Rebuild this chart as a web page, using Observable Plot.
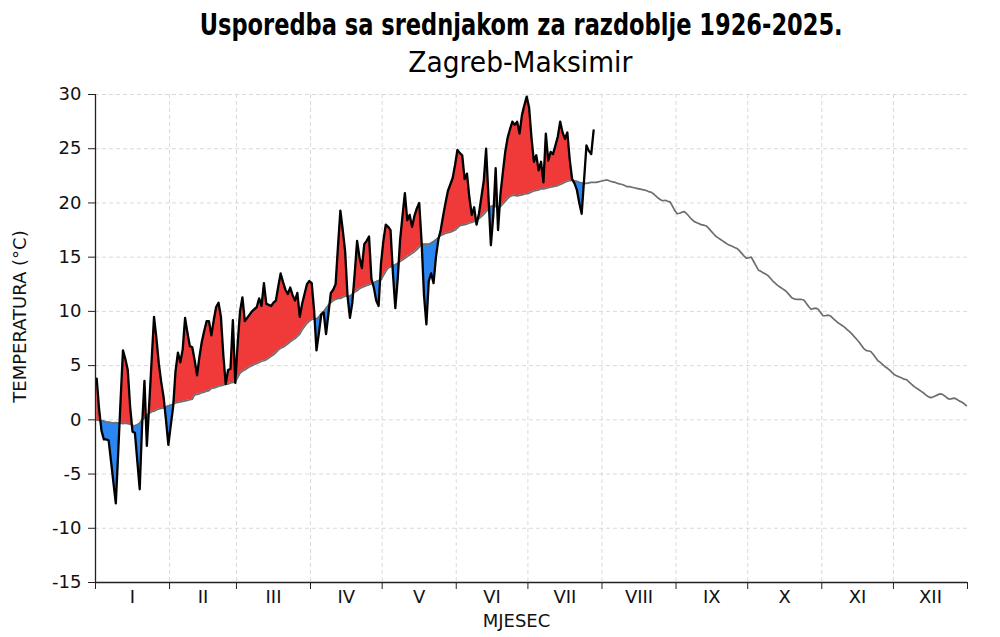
<!DOCTYPE html>
<html>
<head>
<meta charset="utf-8">
<script src="https://cdn.jsdelivr.net/npm/d3@7"></script>
<script src="https://cdn.jsdelivr.net/npm/@observablehq/plot@0.6"></script>
<style>
  html, body { margin: 0; padding: 0; background: #fff; }
  #wrap { width: 1000px; height: 637px; position: relative; overflow: hidden; }
  #head { position: absolute; top: 0; left: 0; width: 1000px; height: 85px; z-index: 2; }
  #chart { position: absolute; top: 0; left: 0; z-index: 1; }
  .hl { position: absolute; left: 0; width: 1000px; text-align: center; white-space: nowrap; }
  .hl span { display: inline-block; transform-origin: 50% 50%; }
  #title { top: 6px; font-family: "DejaVu Sans", sans-serif; font-weight: bold; font-size: 31px; line-height: 36px; color: #000; }
  #subtitle { top: 46px; font-family: "DejaVu Sans", sans-serif; font-size: 28px; line-height: 34px; color: #000; }
</style>
</head>
<body>
<div id="wrap">
  <div id="chart"></div>
  <div id="head">
    <div id="title" class="hl"><span>Usporedba sa srednjakom za razdoblje 1926-2025.</span></div>
    <div id="subtitle" class="hl"><span>Zagreb-Maksimir</span></div>
  </div>
</div>
<script>
// Daily climatological mean 1926-2025 (°C), day 1..365
const climatology = [
  // I
  0.0,-0.05,-0.1,-0.1,-0.2,-0.2,-0.25,-0.3,-0.25,-0.3,-0.3,-0.35,-0.3,-0.35,-0.4,-0.5,-0.55,-0.45,-0.3,0.0,0.2,0.45,0.6,0.75,0.8,0.9,1.0,1.05,1.1,1.2,1.3,
  // II
  1.35,1.45,1.55,1.6,1.65,1.7,1.75,1.8,1.85,1.9,2.3,2.35,2.4,2.5,2.55,2.65,2.7,2.9,2.95,3.0,3.1,3.15,3.2,3.3,3.3,3.4,3.45,3.5,
  // III
  3.9,4.3,4.5,4.6,4.75,4.9,5.0,5.1,5.2,5.3,5.4,5.45,5.55,5.7,5.85,6.0,6.2,6.45,6.6,6.7,6.85,7.0,7.2,7.35,7.5,7.7,7.9,8.3,8.6,8.9,9.1,
  // IV
  9.25,9.3,9.3,9.5,9.8,10.0,10.3,10.6,10.8,11.0,11.1,11.2,11.2,11.3,11.4,11.4,11.4,11.6,11.8,11.9,12.1,12.2,12.3,12.4,12.45,12.55,12.65,12.75,12.85,12.9,
  // V
  13.3,13.7,14.0,14.1,14.2,14.3,14.45,14.6,14.75,14.9,15.05,15.2,15.35,15.5,15.7,15.95,16.2,16.2,16.2,16.2,16.3,16.45,16.6,16.8,17.0,17.1,17.2,17.25,17.3,17.4,17.5,
  // VI
  17.7,17.9,17.95,18.0,18.05,18.15,18.2,18.3,18.4,18.55,18.75,18.95,19.2,19.45,19.7,19.7,19.65,19.6,19.65,19.9,20.15,20.4,20.6,20.7,20.7,20.65,20.7,20.75,20.8,20.85,
  // VII
  20.9,21.0,21.1,21.15,21.2,21.3,21.3,21.35,21.4,21.45,21.5,21.55,21.6,21.7,21.8,21.9,22.0,22.05,22.1,22.05,22.0,21.9,21.85,21.8,21.8,21.85,21.9,21.9,21.9,21.95,22.0,
  // VIII
  22.05,22.1,22.1,22.0,21.95,21.9,21.8,21.75,21.7,21.6,21.5,21.5,21.45,21.4,21.35,21.3,21.25,21.2,21.15,21.05,21.0,20.85,20.65,20.45,20.3,20.2,20.25,20.15,20.1,19.7,19.3,
  // IX
  19.0,19.05,19.15,19.2,19.0,18.75,18.5,18.3,18.2,18.1,18.0,17.95,17.9,17.7,17.45,17.2,16.95,16.8,16.65,16.5,16.35,16.2,16.1,16.0,15.9,15.8,15.6,15.35,15.1,14.9,
  // X
  14.95,15.0,14.6,14.2,13.8,13.7,13.55,13.45,13.3,13.05,12.8,12.6,12.4,12.25,12.1,11.95,11.75,11.5,11.25,11.15,11.1,11.1,11.1,11.05,10.75,10.45,10.2,10.25,10.3,10.2,9.9,
  // XI
  9.6,9.6,9.65,9.6,9.4,9.2,9.0,8.85,8.7,8.55,8.35,8.15,7.95,7.7,7.45,7.2,6.9,6.6,6.4,6.35,6.3,6.05,5.75,5.45,5.3,5.1,4.9,4.75,4.55,4.35,
  // XII
  4.15,4.05,3.95,3.85,3.75,3.7,3.5,3.3,3.1,2.95,2.8,2.65,2.5,2.3,2.15,2.05,2.1,2.2,2.3,2.4,2.35,2.2,2.0,1.9,1.95,2.0,1.9,1.75,1.65,1.5,1.3
];

// Daily mean temperature 2025 (°C), day 1..209
const observed = [
  // I
  3.8,1.0,-1.0,-1.8,-1.8,-1.9,-3.8,-5.8,-7.7,-3.0,1.8,6.4,5.6,4.6,1.2,-1.1,-1.2,-3.8,-6.4,-0.5,3.6,-2.4,1.5,5.5,9.5,7.5,5.2,3.5,2.1,0.0,-2.3,
  // II
  -0.5,1.2,4.5,6.2,5.3,6.5,9.4,8.0,6.8,6.7,5.5,4.1,5.8,7.2,8.2,9.1,9.1,7.8,9.2,10.4,10.8,9.5,6.0,3.3,4.6,4.7,9.2,3.4,
  // III
  7.0,10.0,11.3,9.1,9.4,9.7,10.0,10.2,10.4,11.2,10.5,12.6,10.7,10.6,10.5,10.8,11.0,12.3,13.5,12.7,12.0,11.6,12.2,11.5,11.0,11.7,9.5,10.7,11.6,12.5,12.8,
  // IV
  12.6,10.1,6.4,8.0,9.7,9.9,7.9,9.8,11.7,12.0,12.5,16.0,19.3,17.5,15.5,11.4,9.4,10.8,13.5,16.5,15.0,14.0,16.2,16.5,16.9,13.0,12.2,11.0,10.5,14.4,
  // V
  16.5,18.0,17.8,17.5,13.5,10.3,13.0,16.6,18.8,20.9,18.4,18.9,17.8,18.8,19.5,20.0,16.4,11.5,8.8,12.8,13.5,12.6,15.0,16.6,17.5,18.8,20.0,21.1,21.7,22.3,23.5,
  // VI
  24.9,24.6,24.4,22.2,22.7,20.5,18.9,19.6,18.0,19.0,20.5,22.0,25.0,20.5,16.1,18.8,23.2,17.5,20.8,22.8,24.7,26.0,26.8,27.5,27.2,27.5,26.4,28.1,29.0,29.8,
  // VII
  28.8,26.0,23.8,24.4,23.0,23.8,21.9,26.4,23.9,24.7,24.5,25.3,26.1,27.5,26.5,25.9,26.5,24.0,22.2,21.8,21.2,20.0,19.0,22.1,25.3,24.8,24.5,26.7
];

// the reference shades the anomaly only up to this day (last days are unshaded)
const shadedThroughDay = 204;

const monthLabels = ["I","II","III","IV","V","VI","VII","VIII","IX","X","XI","XII"];
const monthLengths = [31,28,31,30,31,30,31,31,30,31,30,31];
const yTicks = [-15,-10,-5,0,5,10,15,20,25,30];

// month edges (between days) and centres, from month lengths
const monthEdges = [0.5];
monthLengths.forEach(n => monthEdges.push(monthEdges[monthEdges.length - 1] + n));
const monthMids = monthLabels.map((_, i) => (monthEdges[i] + monthEdges[i + 1]) / 2);

const climRows = climatology.map((c, i) => ({day: i + 1, c}));
const obsRows = observed.map((t, i) => ({day: i + 1, t, c: climatology[i]}));

// insert exact crossing points so the warm/cold fills meet on the line
const fillRows = [];
for (let i = 0; i < obsRows.length; i++) {
  const a = obsRows[i];
  if (a.day > shadedThroughDay) break;
  fillRows.push(a);
  const b = obsRows[i + 1];
  if (!b) break;
  const da = a.t - a.c, db = b.t - b.c;
  if (da * db < 0) {
    const f = da / (da - db);
    const c = a.c + f * (b.c - a.c);
    fillRows.push({day: a.day + f, t: c, c});
  }
}

const RED = "#f03a3a", BLUE = "#2c86f2";
const FONT = '"DejaVu Sans", "Noto Sans", sans-serif';

const chart = Plot.plot({
  width: 1000,
  height: 637,
  marginTop: 94,
  marginLeft: 95,
  marginRight: 33,
  marginBottom: 55,
  style: {fontFamily: FONT, fontSize: "18px", color: "#111", background: "transparent"},
  x: {domain: [0.5, 365.5], axis: null},
  y: {domain: [-15, 30], axis: null},
  marks: [
    Plot.gridY(yTicks.slice(1), {stroke: "#d0d0d0", strokeOpacity: 1, strokeDasharray: "4,3", strokeWidth: 0.8}),
    Plot.gridX(monthEdges.slice(1, -1), {stroke: "#d0d0d0", strokeOpacity: 1, strokeDasharray: "4,3", strokeWidth: 0.8}),
    Plot.areaY(fillRows, {x: "day", y1: "c", y2: d => Math.max(d.t, d.c), fill: RED, curve: "linear"}),
    Plot.areaY(fillRows, {x: "day", y1: "c", y2: d => Math.min(d.t, d.c), fill: BLUE, curve: "linear"}),
    Plot.lineY(climRows, {x: "day", y: "c", stroke: "#6e6e6e", strokeWidth: 1.7}),
    Plot.lineY(obsRows, {x: "day", y: "t", stroke: "#000", strokeWidth: 2.3, strokeLinejoin: "round"}),
    Plot.ruleX([0.5], {stroke: "#222", strokeWidth: 1.3}),
    Plot.ruleY([-15], {stroke: "#222", strokeWidth: 1.3}),
    Plot.axisY({ticks: yTicks, tickSize: 7, tickPadding: 7, tickFormat: d => String(d), label: null, fontSize: 18, stroke: "#222"}),
    Plot.axisX({ticks: monthEdges, tickSize: 7, tickFormat: () => "", label: null, stroke: "#222"}),
    Plot.text(monthLabels, {x: (d, i) => monthMids[i], frameAnchor: "bottom", dy: 20, fontSize: 18, fill: "#111"}),
    Plot.text(["MJESEC"], {frameAnchor: "bottom", dx: -15, dy: 44, fontSize: 18, fill: "#111"}),
    Plot.text(["TEMPERATURA (°C)"], {frameAnchor: "left", textAnchor: "middle", dx: -75, dy: -22, rotate: -90, fontSize: 18, fill: "#111"})
  ]
});
document.getElementById("chart").appendChild(chart);

// fit the header lines to the reference widths (condensed look)
function fitWidth(sel, target, shift) {
  const s = document.querySelector(sel + " span");
  const w = s.getBoundingClientRect().width;
  s.style.transform = "translateX(" + shift + "px) scaleX(" + (target / w) + ")";
}
fitWidth("#title", 643, 21);
fitWidth("#subtitle", 224, 20);
</script>
</body>
</html>
